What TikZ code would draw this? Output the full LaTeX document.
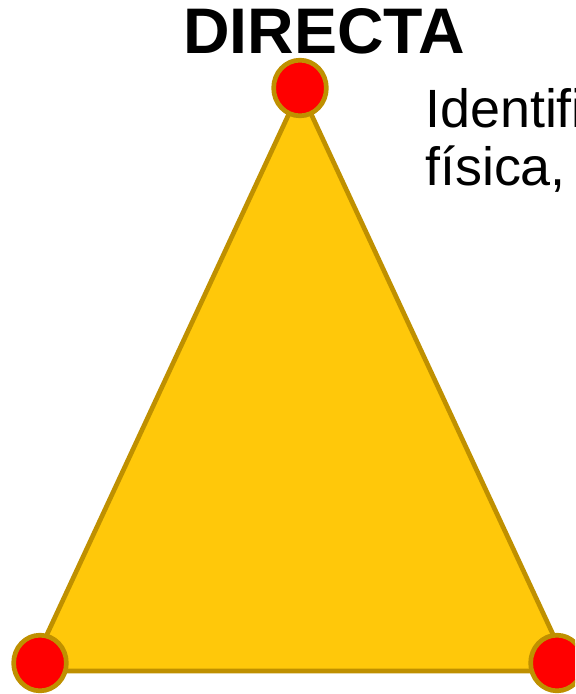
\documentclass[tikz,border=0pt]{standalone}
\usepackage{fontspec}
\setmainfont{Liberation Sans}
\usetikzlibrary{shapes.geometric}

\definecolor{goldfill}{RGB}{255,200,10}
\definecolor{goldline}{RGB}{191,144,0}

\tikzset{
	vertexdot/.style={ellipse, draw=goldline, fill=red, line width=4pt,
		minimum width=45pt, minimum height=47.5pt, inner sep=0pt},
	bodytext/.style={anchor=base west, font=\fontsize{46}{52}\selectfont}
}

\begin{document}
\begin{tikzpicture}[x=0.03cm, y=-0.03cm]

	% --- Frame (pixel grid of the slide) ---
	\clip (0,0) rectangle (575,694);

	% --- Triangle ---
	\coordinate (apex) at (300,90);
	\coordinate (baseL) at (30,671);
	\coordinate (baseR) at (570,671);
	\draw[goldline, fill=goldfill, line width=4pt, line join=round]
		(apex) -- (baseL) -- (baseR) -- cycle;

	% --- Vertex dots ---
	\node[vertexdot] (top) at (300,88) {};
	\node[vertexdot] (left) at (40,663) {};
	\node[vertexdot] (right) at (557,663) {};

	% --- Title ---
	\node[anchor=base, font=\bfseries\fontsize{55}{60}\selectfont] (title) at (324,53) {DIRECTA};

	% --- Side text ---
	\node[bodytext] (lineA) at (421,127) {Identifi};
	\node[bodytext] (lineB) at (421,185) {física,};

\end{tikzpicture}
\end{document}
